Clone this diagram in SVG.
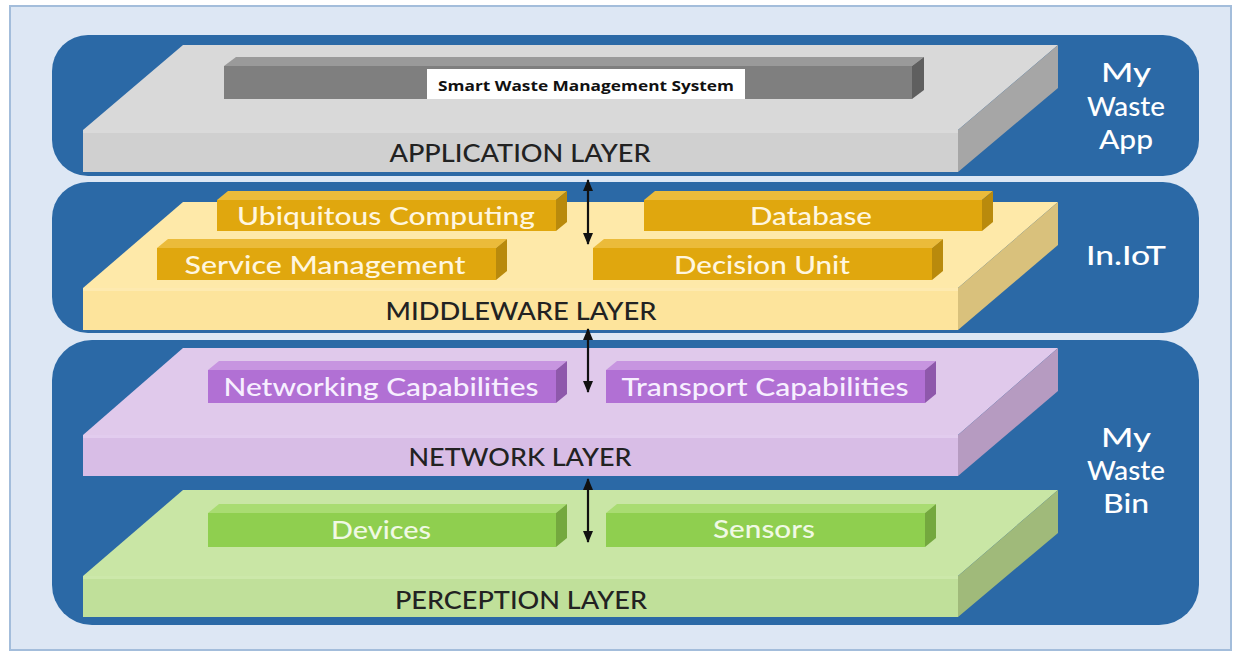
<svg xmlns="http://www.w3.org/2000/svg" width="1238" height="653" viewBox="0 0 1238 653">
<defs>
<style>
.frame{fill:#dde7f4;stroke:#a3bddb;stroke-width:2}
.panel{fill:#2b69a6}
.lbl{font-family:Lato,"Open Sans","Liberation Sans",sans-serif;font-size:24px;font-weight:500;fill:#222222;text-anchor:middle}
.side{font-family:Lato,"Open Sans","Liberation Sans",sans-serif;font-size:26px;font-weight:500;fill:#ffffff;text-anchor:middle}
.bar{font-family:Lato,"Open Sans","Liberation Sans",sans-serif;font-size:24px;font-weight:500;text-anchor:middle}
.conn{stroke:#111;stroke-width:2.2;fill:none}
</style>
<marker id="ah" viewBox="0 0 12 12" refX="11" refY="6" markerWidth="12" markerHeight="12" markerUnits="userSpaceOnUse" orient="auto-start-reverse">
<path d="M0,1 L12,6 L0,11 z" fill="#111"/>
</marker>
</defs>
<rect x="0" y="0" width="1238" height="653" fill="#ffffff"/>
<rect class="frame" x="10" y="6" width="1221" height="644"/>

<g id="panel-app"><rect class="panel" x="52" y="35" width="1147" height="141" rx="36"/></g>
<g id="panel-iot"><rect class="panel" x="52" y="182" width="1147" height="151" rx="36"/></g>
<g id="panel-bin"><rect class="panel" x="52" y="340" width="1147" height="285" rx="40"/></g>

<g id="application-layer">
<polygon points="83,130 183,45 1058,45 958,130" fill="#d9d9d9"/>
<polygon points="958,130 1058,45 1058,88 958,172" fill="#a6a6a6"/>
<rect x="83" y="130" width="875" height="42" fill="#d0d0d0"/>
<rect x="83" y="130" width="875" height="3" fill="#dadada"/>
<text class="lbl" x="520" y="162" textLength="261" lengthAdjust="spacingAndGlyphs">APPLICATION LAYER</text>
</g>
<g id="smart-waste-system">
<polygon points="224,66 236,57 924,57 912,66" fill="#9a9a9a"/>
<polygon points="912,66 924,57 924,90 912,99" fill="#5f5f5f"/>
<rect x="224" y="66" width="688" height="33" fill="#7f7f7f"/>
<rect x="427" y="69" width="318" height="30" fill="#ffffff"/>
<text x="586" y="91" font-family="'Open Sans',Lato,'Liberation Sans',sans-serif" font-size="15" font-weight="bold" fill="#111" text-anchor="middle" textLength="296" lengthAdjust="spacingAndGlyphs">Smart Waste Management System</text>
</g>
<g id="my-waste-app">
<text class="side" x="1126" y="82" textLength="50" lengthAdjust="spacingAndGlyphs">My</text>
<text class="side" x="1126" y="116" textLength="78" lengthAdjust="spacingAndGlyphs">Waste</text>
<text class="side" x="1126" y="149" textLength="54" lengthAdjust="spacingAndGlyphs">App</text>
</g>

<g id="middleware-layer">
<polygon points="83,288 183,202 1058,202 958,288" fill="#fee9a9"/>
<polygon points="958,288 1058,202 1058,245 958,330" fill="#d9c17c"/>
<rect x="83" y="288" width="875" height="42" fill="#fde49c"/>
<rect x="83" y="288" width="875" height="3" fill="#feeab0"/>
<text class="lbl" x="521" y="320" textLength="271" lengthAdjust="spacingAndGlyphs">MIDDLEWARE LAYER</text>
</g>
<g id="ubiquitous-computing">
<polygon points="217,200 228,191 567,191 556,200" fill="#ebbb3a"/>
<polygon points="556,200 567,191 567,222 556,231" fill="#b98a0c"/>
<rect x="217" y="200" width="339" height="31" fill="#e0a70e"/>
<text class="bar" x="386" y="225" fill="#fff6df" textLength="298" lengthAdjust="spacingAndGlyphs">Ubiquitous Computing</text>
</g>
<g id="database">
<polygon points="644,200 655,191 993,191 982,200" fill="#ebbb3a"/>
<polygon points="982,200 993,191 993,222 982,231" fill="#b98a0c"/>
<rect x="644" y="200" width="338" height="31" fill="#e0a70e"/>
<text class="bar" x="811" y="225" fill="#fff6df" textLength="122" lengthAdjust="spacingAndGlyphs">Database</text>
</g>
<g id="service-management">
<polygon points="157,248 168,239 507,239 496,248" fill="#ebbb3a"/>
<polygon points="496,248 507,239 507,271 496,280" fill="#b98a0c"/>
<rect x="157" y="248" width="339" height="32" fill="#e0a70e"/>
<text class="bar" x="325" y="274" fill="#fff6df" textLength="281" lengthAdjust="spacingAndGlyphs">Service Management</text>
</g>
<g id="decision-unit">
<polygon points="593,248 604,239 943,239 932,248" fill="#ebbb3a"/>
<polygon points="932,248 943,239 943,271 932,280" fill="#b98a0c"/>
<rect x="593" y="248" width="339" height="32" fill="#e0a70e"/>
<text class="bar" x="762" y="274" fill="#fff6df" textLength="176" lengthAdjust="spacingAndGlyphs">Decision Unit</text>
</g>
<g id="in-iot">
<text class="side" x="1126" y="265" textLength="80" lengthAdjust="spacingAndGlyphs">In.IoT</text>
</g>

<g id="network-layer">
<polygon points="83,435 183,348 1058,348 958,435" fill="#e0c9eb"/>
<polygon points="958,435 1058,348 1058,391 958,476" fill="#b69bc1"/>
<rect x="83" y="435" width="875" height="41" fill="#d8bde6"/>
<rect x="83" y="435" width="875" height="3" fill="#e2ccee"/>
<text class="lbl" x="520" y="466" textLength="223" lengthAdjust="spacingAndGlyphs">NETWORK LAYER</text>
</g>
<g id="networking-capabilities">
<polygon points="208,370 219,361 567,361 556,370" fill="#c795e0"/>
<polygon points="556,370 567,361 567,394 556,403" fill="#8e58ab"/>
<rect x="208" y="370" width="348" height="33" fill="#b170d4"/>
<text class="bar" x="381" y="396" fill="#f7efff" textLength="315" lengthAdjust="spacingAndGlyphs">Networking Capabilities</text>
</g>
<g id="transport-capabilities">
<polygon points="606,370 617,361 936,361 925,370" fill="#c795e0"/>
<polygon points="925,370 936,361 936,394 925,403" fill="#8e58ab"/>
<rect x="606" y="370" width="319" height="33" fill="#b170d4"/>
<text class="bar" x="765" y="396" fill="#f7efff" textLength="287" lengthAdjust="spacingAndGlyphs">Transport Capabilities</text>
</g>

<g id="perception-layer">
<polygon points="83,576 183,490 1058,490 958,576" fill="#c9e6a5"/>
<polygon points="958,576 1058,490 1058,533 958,617" fill="#a0ba7a"/>
<rect x="83" y="576" width="875" height="41" fill="#c0e09a"/>
<rect x="83" y="576" width="875" height="3" fill="#cce8aa"/>
<text class="lbl" x="521" y="609" textLength="252" lengthAdjust="spacingAndGlyphs">PERCEPTION LAYER</text>
</g>
<g id="devices">
<polygon points="208,513 219,504 567,504 556,513" fill="#a9dc72"/>
<polygon points="556,513 567,504 567,538 556,547" fill="#74a83e"/>
<rect x="208" y="513" width="348" height="34" fill="#8fcf4f"/>
<text class="bar" x="381" y="539" fill="#f0f9e4" textLength="100" lengthAdjust="spacingAndGlyphs">Devices</text>
</g>
<g id="sensors">
<polygon points="606,513 617,504 936,504 925,513" fill="#a9dc72"/>
<polygon points="925,513 936,504 936,538 925,547" fill="#74a83e"/>
<rect x="606" y="513" width="319" height="34" fill="#8fcf4f"/>
<text class="bar" x="764" y="538" fill="#f0f9e4" textLength="102" lengthAdjust="spacingAndGlyphs">Sensors</text>
</g>
<g id="my-waste-bin">
<text class="side" x="1126" y="447" textLength="50" lengthAdjust="spacingAndGlyphs">My</text>
<text class="side" x="1126" y="480" textLength="78" lengthAdjust="spacingAndGlyphs">Waste</text>
<text class="side" x="1126" y="513" textLength="46" lengthAdjust="spacingAndGlyphs">Bin</text>
</g>

<g id="connectors">
<line class="conn" x1="588" y1="180" x2="588" y2="244" marker-start="url(#ah)" marker-end="url(#ah)"/>
<line class="conn" x1="588" y1="329" x2="588" y2="392" marker-start="url(#ah)" marker-end="url(#ah)"/>
<line class="conn" x1="588" y1="479" x2="588" y2="542" marker-start="url(#ah)" marker-end="url(#ah)"/>
</g>
</svg>
